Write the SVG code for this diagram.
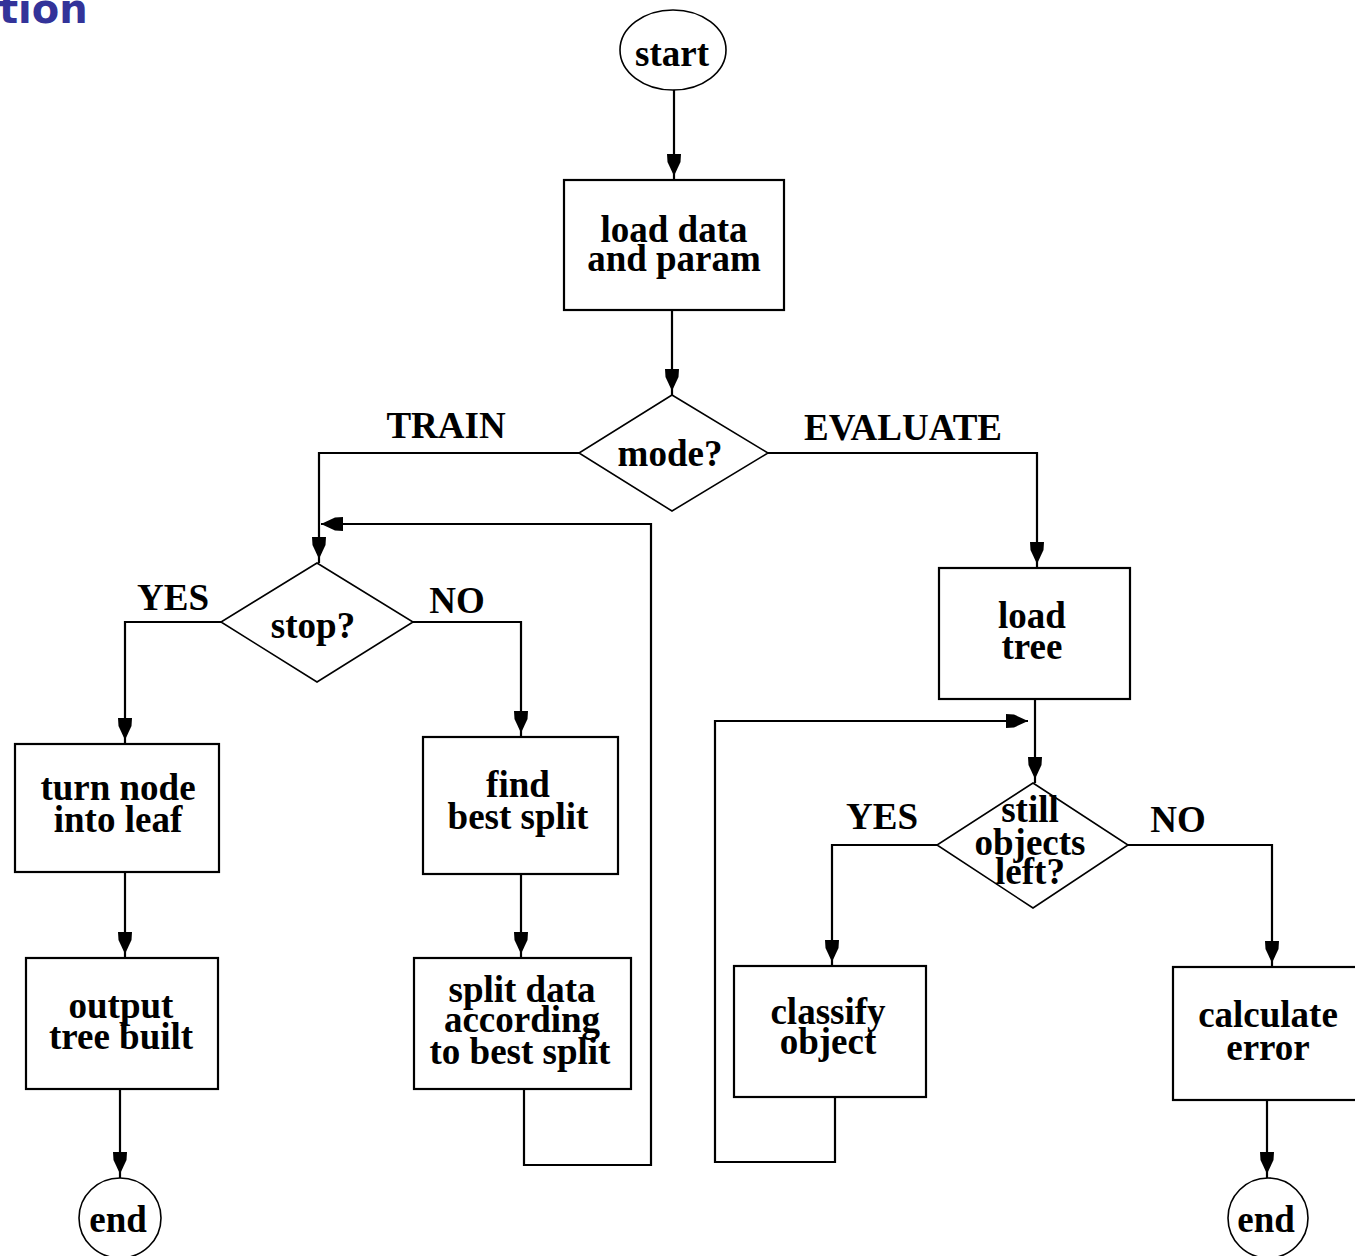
<svg xmlns="http://www.w3.org/2000/svg" width="1355" height="1256" viewBox="0 0 1355 1256">
<style>
.box{fill:#fff;stroke:#000;stroke-width:2.2}
.dec{fill:#fff;stroke:#000;stroke-width:1.6}
.t{font-family:"Liberation Serif","Times New Roman",serif;font-weight:bold;font-size:37px;text-anchor:middle;fill:#000}
.lbl{font-family:"Liberation Serif","Times New Roman",serif;font-weight:bold;font-size:37px;text-anchor:middle;fill:#000}
.c{fill:none;stroke:#000;stroke-width:2.2}
</style>
<defs>
<marker id="arr" markerUnits="userSpaceOnUse" markerWidth="27" markerHeight="16" viewBox="0 0 27 16" refX="26" refY="8" orient="auto">
<path d="M0,1 L8,1.5 L22,8 L8,14.5 L0,15 Z" fill="#000"/>
</marker>
<marker id="tip" markerUnits="userSpaceOnUse" markerWidth="27" markerHeight="16" viewBox="0 0 27 16" refX="22" refY="8" orient="auto">
<path d="M0,1 L8,1.5 L22,8 L8,14.5 L0,15 Z" fill="#000"/>
</marker>
</defs>
<rect width="1355" height="1256" fill="#fff"/>
<text x="-1" y="23" font-family="'DejaVu Sans',Verdana,sans-serif" font-weight="bold" font-size="40" fill="#333399">tion</text>
<g id="connectors">
<path class="c" d="M674,90 V180" marker-end="url(#arr)"/>
<path class="c" d="M672,310 V395" marker-end="url(#arr)"/>
<path class="c" d="M579,453 H319 V563" marker-end="url(#arr)"/>
<path class="c" d="M768,453 H1037 V568" marker-end="url(#arr)"/>
<path class="c" d="M221,622 H125 V744" marker-end="url(#arr)"/>
<path class="c" d="M413,622 H521 V737" marker-end="url(#arr)"/>
<path class="c" d="M125,872 V958" marker-end="url(#arr)"/>
<path class="c" d="M120,1089 V1178" marker-end="url(#arr)"/>
<path class="c" d="M521,874 V958" marker-end="url(#arr)"/>
<path class="c" d="M524,1089 V1165 H651 V524 H321" marker-end="url(#tip)"/>
<path class="c" d="M1035,699 V783" marker-end="url(#arr)"/>
<path class="c" d="M937,845 H832 V966" marker-end="url(#arr)"/>
<path class="c" d="M1128,845 H1272 V967" marker-end="url(#arr)"/>
<path class="c" d="M1267,1100 V1178" marker-end="url(#arr)"/>
<path class="c" d="M835,1097 V1162 H715 V721 H1028" marker-end="url(#tip)"/>
<text class="lbl" x="446" y="438">TRAIN</text>
<text class="lbl" x="903" y="440">EVALUATE</text>
<text class="lbl" x="173" y="610">YES</text>
<text class="lbl" x="457" y="613">NO</text>
<text class="lbl" x="882" y="829">YES</text>
<text class="lbl" x="1178" y="832">NO</text>
</g>
<g id="start"><ellipse class="dec" cx="673" cy="50" rx="53" ry="40"/><text class="t" x="672" y="66">start</text></g>
<g id="load-data"><rect class="box" x="564" y="180" width="220" height="130"/><text class="t" x="674" y="242">load data</text><text class="t" x="674" y="271">and param</text></g>
<g id="mode"><polygon class="dec" points="672,395 768,453 672,511 579,453"/><text class="t" x="670" y="466">mode?</text></g>
<g id="stop"><polygon class="dec" points="317,563 413,622 317,682 221,622"/><text class="t" x="313" y="638">stop?</text></g>
<g id="turn-node"><rect class="box" x="15" y="744" width="204" height="128"/><text class="t" x="118" y="800">turn node</text><text class="t" x="118" y="832">into leaf</text></g>
<g id="find-split"><rect class="box" x="423" y="737" width="195" height="137"/><text class="t" x="518" y="797">find</text><text class="t" x="518" y="829">best split</text></g>
<g id="split-data"><rect class="box" x="414" y="958" width="217" height="131"/><text class="t" x="522" y="1002">split data</text><text class="t" x="522" y="1032">according</text><text class="t" x="520" y="1064">to best split</text></g>
<g id="output"><rect class="box" x="26" y="958" width="192" height="131"/><text class="t" x="121" y="1018">output</text><text class="t" x="121" y="1049">tree built</text></g>
<g id="end-train"><ellipse class="dec" cx="120" cy="1218" rx="41" ry="40"/><text class="t" x="118" y="1232">end</text></g>
<g id="load-tree"><rect class="box" x="939" y="568" width="191" height="131"/><text class="t" x="1032" y="628">load</text><text class="t" x="1032" y="659">tree</text></g>
<g id="still"><polygon class="dec" points="1033,783 1128,845 1033,908 937,845"/><text class="t" x="1030" y="822">still</text><text class="t" x="1030" y="855">objects</text><text class="t" x="1030" y="884">left?</text></g>
<g id="classify"><rect class="box" x="734" y="966" width="192" height="131"/><text class="t" x="828" y="1024">classify</text><text class="t" x="828" y="1054">object</text></g>
<g id="calculate"><rect class="box" x="1173" y="967" width="192" height="133"/><text class="t" x="1268" y="1027">calculate</text><text class="t" x="1268" y="1060">error</text></g>
<g id="end-eval"><ellipse class="dec" cx="1268" cy="1218" rx="40" ry="40"/><text class="t" x="1266" y="1232">end</text></g>
</svg>
